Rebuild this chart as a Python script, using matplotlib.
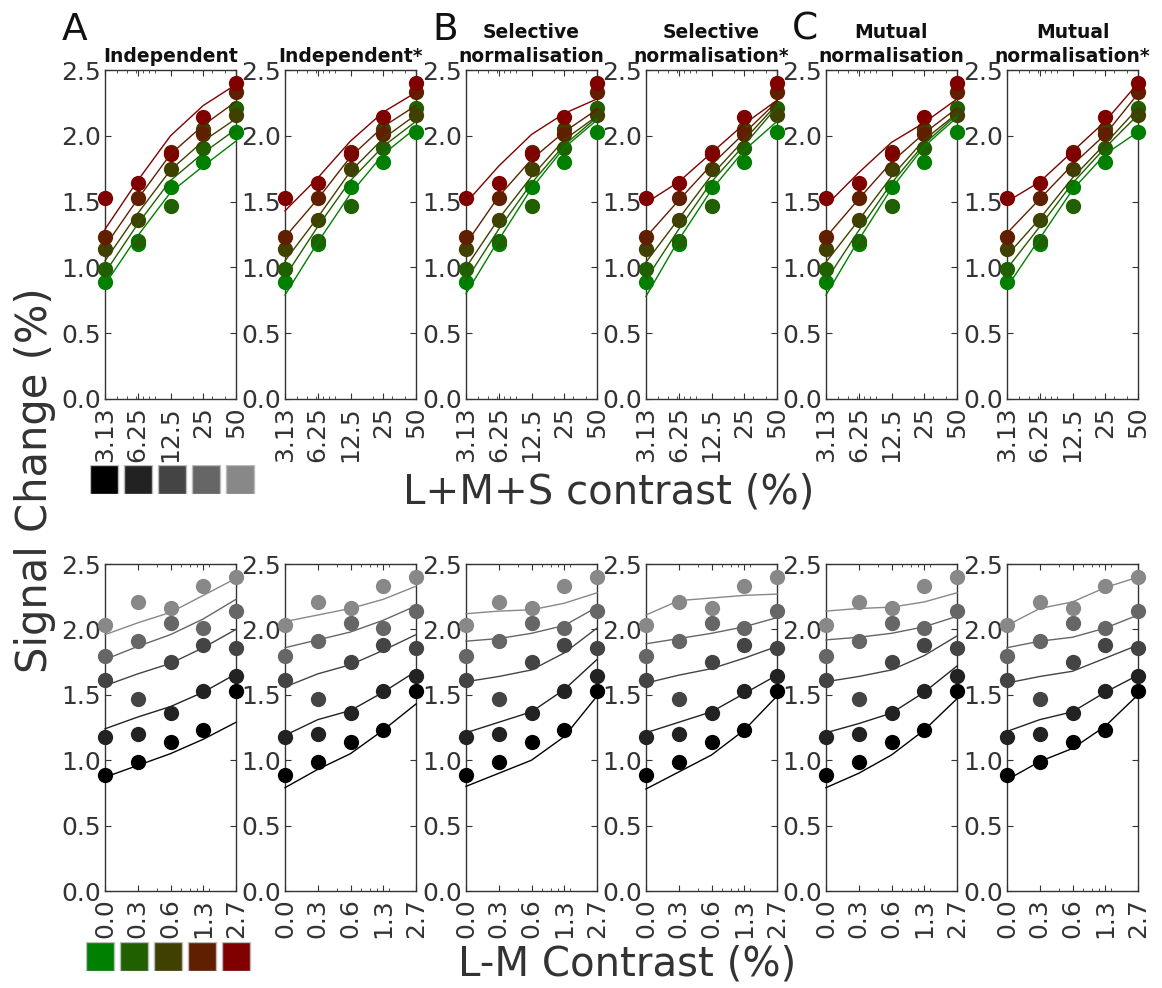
import numpy as np
import matplotlib
matplotlib.use('Agg')
import matplotlib.pyplot as plt
from matplotlib.ticker import FixedLocator, FixedFormatter, LogLocator, NullFormatter

# ---------------- data ----------------
lms_labels = ['3.13', '6.25', '12.5', '25', '50']
lms_contrast = [3.125, 6.25, 12.5, 25.0, 50.0]
lm_labels = ['0.0', '0.3', '0.6', '1.3', '2.7']

# measured signal change (%), rows: L+M+S contrast level, columns: L-M contrast level
signal_lms_3 = [0.89, 0.99, 1.14, 1.23, 1.53]
signal_lms_6 = [1.18, 1.20, 1.36, 1.53, 1.64]
signal_lms_12 = [1.61, 1.47, 1.75, 1.88, 1.86]
signal_lms_25 = [1.80, 1.91, 2.05, 2.01, 2.14]
signal_lms_50 = [2.03, 2.21, 2.16, 2.33, 2.40]

# model fits (same layout as data)
fit_independent = [[0.87, 0.96, 1.05, 1.16, 1.29],
                   [1.24, 1.33, 1.41, 1.52, 1.66],
                   [1.57, 1.66, 1.74, 1.86, 2.00],
                   [1.77, 1.87, 1.96, 2.08, 2.23],
                   [1.96, 2.05, 2.13, 2.26, 2.39]]
fit_independent_star = [[0.79, 0.93, 1.05, 1.23, 1.43],
                        [1.19, 1.31, 1.38, 1.52, 1.68],
                        [1.56, 1.66, 1.73, 1.84, 1.96],
                        [1.86, 1.92, 1.98, 2.07, 2.18],
                        [2.06, 2.11, 2.16, 2.23, 2.33]]
fit_selective = [[0.80, 0.90, 1.00, 1.18, 1.49],
                 [1.21, 1.29, 1.37, 1.54, 1.77],
                 [1.60, 1.64, 1.69, 1.82, 2.01],
                 [1.91, 1.93, 1.97, 2.03, 2.17],
                 [2.12, 2.14, 2.15, 2.20, 2.28]]
fit_selective_star = [[0.78, 0.91, 1.04, 1.23, 1.49],
                      [1.21, 1.29, 1.37, 1.51, 1.65],
                      [1.59, 1.65, 1.70, 1.78, 1.87],
                      [1.89, 1.93, 1.97, 2.02, 2.09],
                      [2.11, 2.22, 2.24, 2.26, 2.27]]
fit_mutual = [[0.79, 0.90, 1.04, 1.23, 1.47],
              [1.21, 1.28, 1.36, 1.52, 1.72],
              [1.60, 1.64, 1.69, 1.80, 1.95],
              [1.92, 1.94, 1.97, 2.02, 2.10],
              [2.14, 2.16, 2.17, 2.21, 2.28]]
fit_mutual_star = [[0.85, 0.99, 1.09, 1.26, 1.50],
                   [1.22, 1.31, 1.37, 1.52, 1.65],
                   [1.59, 1.64, 1.68, 1.78, 1.88],
                   [1.86, 1.91, 1.94, 2.01, 2.11],
                   [2.03, 2.16, 2.21, 2.32, 2.40]]

model_titles = ['Independent', 'Independent*', 'Selective\nnormalisation',
                'Selective\nnormalisation*', 'Mutual\nnormalisation',
                'Mutual\nnormalisation*']
panel_letters = ['A', 'B', 'C']

# ---------------- style ----------------
gray_colors = ['#000000', '#222222', '#444444', '#666666', '#888888']
rg_colors = ['#008000', '#206000', '#404000', '#602000', '#800000']
text_col = '#333333'

W, H = 1162, 988
fig = plt.figure(figsize=(W / 100, H / 100), dpi=100)


def fx(px):
    return px / W


def fy(py):
    return 1 - py / H


panel_lefts = [105, 285, 466, 646, 826, 1007]
panel_w = 131
rows_px = [(70, 399), (564, 891)]

data = np.array([signal_lms_3, signal_lms_6, signal_lms_12, signal_lms_25, signal_lms_50])
fits = [np.array(f) for f in [fit_independent, fit_independent_star, fit_selective,
                              fit_selective_star, fit_mutual, fit_mutual_star]]
lm_pos = np.power(2.0, np.arange(len(lm_labels)))


def style_axes(ax, xpos, xlabels):
    ax.set_xscale('log')
    ax.set_xlim(xpos[0], xpos[-1])
    ax.set_ylim(0, 2.5)
    ax.xaxis.set_major_locator(FixedLocator(xpos))
    ax.xaxis.set_major_formatter(FixedFormatter(xlabels))
    ax.xaxis.set_minor_locator(LogLocator(base=10, subs='auto'))
    ax.xaxis.set_minor_formatter(NullFormatter())
    ax.set_yticks(np.arange(0, 2.51, 0.5))
    ax.set_yticklabels(['%.1f' % v for v in np.arange(0, 2.51, 0.5)])
    ax.tick_params(axis='both', which='major', direction='in', length=4, width=0.8,
                   top=True, right=True, labelsize=18, labelcolor=text_col,
                   color=text_col)
    ax.tick_params(axis='x', which='major', pad=5, labelrotation=90)
    ax.tick_params(axis='y', which='major', pad=3)
    ax.tick_params(axis='x', which='minor', direction='in', length=2, width=0.6,
                   top=True, color=text_col)
    for s in ax.spines.values():
        s.set_color(text_col)
        s.set_linewidth(1.0)


for k in range(6):
    fit = fits[k]
    # top row: x = L+M+S contrast, series = L-M level
    y0, y1 = rows_px[0]
    ax = fig.add_axes([fx(panel_lefts[k]), fy(y1), fx(panel_w), (y1 - y0) / H])
    for j in range(5):
        ax.plot(lms_contrast, data[:, j], 'o', color=rg_colors[j], ms=11,
                mec='none', clip_on=False, zorder=3)
    for j in range(5):
        ax.plot(lms_contrast, fit[:, j], '-', color=rg_colors[j], lw=1.0,
                clip_on=False, zorder=4)
    style_axes(ax, lms_contrast, lms_labels)
    ax.text(0.5, 1 + 8 / 329, model_titles[k], transform=ax.transAxes,
            ha='center', va='baseline', fontsize=13.5, fontweight='bold',
            color='#111111', linespacing=1.33)

    # bottom row: x = L-M contrast, series = L+M+S level
    y0, y1 = rows_px[1]
    ax = fig.add_axes([fx(panel_lefts[k]), fy(y1), fx(panel_w), (y1 - y0) / H])
    for i in range(5):
        ax.plot(lm_pos, data[i, :], 'o', color=gray_colors[i], ms=11,
                mec='none', clip_on=False, zorder=3)
    for i in range(5):
        ax.plot(lm_pos, fit[i, :], '-', color=gray_colors[i], lw=1.0,
                clip_on=False, zorder=4)
    style_axes(ax, lm_pos, lm_labels)

# colour swatches
def swatches(x0, ytop, colors, edge):
    axs = fig.add_axes([fx(x0), fy(ytop + 29), fx(34 * 5), 29 / H])
    axs.bar(np.arange(len(colors)), 1, width=0.82, color=colors, align='edge',
            edgecolor=edge, linewidth=1.0)
    axs.set_xlim(0, 5)
    axs.set_ylim(0, 1)
    axs.axis('off')


swatches(90, 465, gray_colors, '#bbbbbb')
swatches(86, 942, rg_colors, '#bbbbbb')

# labels
fig.text(fx(609), fy(503), 'L+M+S contrast (%)', ha='center', va='baseline',
         fontsize=29, color=text_col)
fig.text(fx(627), fy(975), 'L-M Contrast (%)', ha='center', va='baseline',
         fontsize=29, color=text_col)
fig.text(fx(35), fy(480), 'Signal Change (%)', ha='center', va='center',
         rotation=90, fontsize=30, color=text_col)
for letter, xp in zip(panel_letters, [62, 432, 792]):
    fig.text(fx(xp), fy(40), letter, ha='left', va='baseline', fontsize=27,
             color='#111111')

fig.savefig('out.png', dpi=100)
